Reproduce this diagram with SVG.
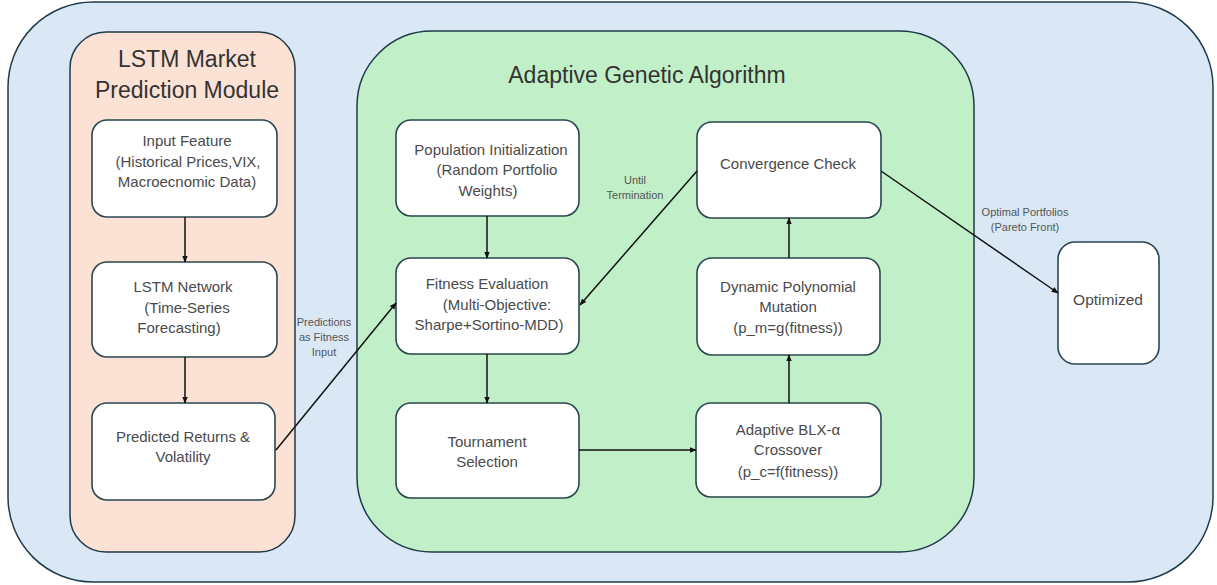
<svg xmlns="http://www.w3.org/2000/svg" width="1217" height="585" viewBox="0 0 1217 585">
<defs>
<marker id="arr" viewBox="0 0 10 10" refX="9" refY="5" markerWidth="7" markerHeight="7" markerUnits="userSpaceOnUse" orient="auto">
<path d="M0,1 L10,5 L0,9 z" fill="#111"/>
</marker>
<style>
.cont{stroke:#1f3a48;stroke-width:1.5}
.node{fill:#ffffff;stroke:#2b4650;stroke-width:1.6}
.t{font-family:"Liberation Sans",Arial,sans-serif;font-size:15px;fill:#4a4a4a;text-anchor:middle}
.title{font-family:"Liberation Sans",Arial,sans-serif;font-size:23px;fill:#333;text-anchor:middle}
.lbl{font-family:"Liberation Sans",Arial,sans-serif;font-size:11px;fill:#555;text-anchor:middle}
.c{stroke:#111;stroke-width:1.5;fill:none;marker-end:url(#arr)}
</style>
</defs>
<rect x="0" y="0" width="1217" height="585" fill="#ffffff"/>
<g id="outer"><rect class="cont" x="8" y="2" width="1205" height="580" rx="85" ry="85" fill="#dae8f6"/></g>
<g id="lstm-module">
<rect class="cont" x="70" y="32" width="225" height="520" rx="36" ry="36" fill="#fbe2d5"/>
<text class="title" x="187" y="67">LSTM Market</text>
<text class="title" x="187" y="98">Prediction Module</text>
</g>
<g id="ga-module">
<rect class="cont" x="357" y="31" width="617" height="521" rx="75" ry="75" fill="#c1f0c8"/>
<text class="title" x="647" y="83">Adaptive Genetic Algorithm</text>
</g>
<g id="input-feature">
<rect class="node" x="92" y="120" width="185" height="97" rx="15"/>
<text class="t" x="187" y="146">Input Feature</text>
<text class="t" x="188" y="167">(Historical Prices,VIX,</text>
<text class="t" x="187" y="187">Macroecnomic Data)</text>
</g>
<g id="lstm-network">
<rect class="node" x="92" y="262" width="185" height="95" rx="15"/>
<text class="t" x="183" y="292">LSTM Network</text>
<text class="t" x="187" y="313">(Time-Series</text>
<text class="t" x="179" y="333">Forecasting)</text>
</g>
<g id="predicted-returns">
<rect class="node" x="92" y="403" width="183" height="97" rx="15"/>
<text class="t" x="183" y="442">Predicted Returns &amp;</text>
<text class="t" x="183" y="462">Volatility</text>
</g>
<g id="population-init">
<rect class="node" x="396" y="120" width="183" height="96" rx="15"/>
<text class="t" x="491" y="155">Population Initialization</text>
<text class="t" x="497" y="175">(Random Portfolio</text>
<text class="t" x="488" y="196">Weights)</text>
</g>
<g id="fitness-eval">
<rect class="node" x="396" y="258" width="183" height="96" rx="15"/>
<text class="t" x="487" y="289">Fitness Evaluation</text>
<text class="t" x="497" y="310">(Multi-Objective:</text>
<text class="t" x="489" y="330">Sharpe+Sortino-MDD)</text>
</g>
<g id="tournament">
<rect class="node" x="396" y="403" width="183" height="95" rx="15"/>
<text class="t" x="487" y="447">Tournament</text>
<text class="t" x="487" y="467">Selection</text>
</g>
<g id="crossover">
<rect class="node" x="696" y="403" width="185" height="94" rx="15"/>
<text class="t" x="788" y="435">Adaptive BLX-α</text>
<text class="t" x="788" y="455">Crossover</text>
<text class="t" x="788" y="477">(p_c=f(fitness))</text>
</g>
<g id="mutation">
<rect class="node" x="697" y="258" width="183" height="97" rx="15"/>
<text class="t" x="788" y="292">Dynamic Polynomial</text>
<text class="t" x="788" y="312">Mutation</text>
<text class="t" x="788" y="333">(p_m=g(fitness))</text>
</g>
<g id="convergence">
<rect class="node" x="697" y="122" width="184" height="96" rx="15"/>
<text class="t" x="788" y="169">Convergence Check</text>
</g>
<g id="optimized">
<rect class="node" x="1058" y="242" width="101" height="122" rx="17"/>
<text class="t" x="1108" y="305" style="font-size:15.5px">Optimized</text>
</g>
<g id="connectors">
<line class="c" x1="185" y1="217" x2="185" y2="262"/>
<line class="c" x1="185" y1="357" x2="185" y2="403"/>
<line class="c" x1="276" y1="450" x2="396" y2="303"/>
<line class="c" x1="487" y1="216" x2="487" y2="258"/>
<line class="c" x1="487" y1="354" x2="487" y2="403"/>
<line class="c" x1="579" y1="450" x2="696" y2="450"/>
<line class="c" x1="789" y1="403" x2="789" y2="355"/>
<line class="c" x1="789" y1="258" x2="789" y2="218"/>
<line class="c" x1="697" y1="171" x2="580" y2="305"/>
<line class="c" x1="881" y1="171" x2="1058" y2="293"/>
<text class="lbl" x="324" y="326">Predictions</text>
<text class="lbl" x="324" y="341">as Fitness</text>
<text class="lbl" x="324" y="356">Input</text>
<text class="lbl" x="635" y="184">Until</text>
<text class="lbl" x="635" y="199">Termination</text>
<text class="lbl" x="1025" y="216">Optimal Portfolios</text>
<text class="lbl" x="1025" y="231">(Pareto Front)</text>
</g>
</svg>
